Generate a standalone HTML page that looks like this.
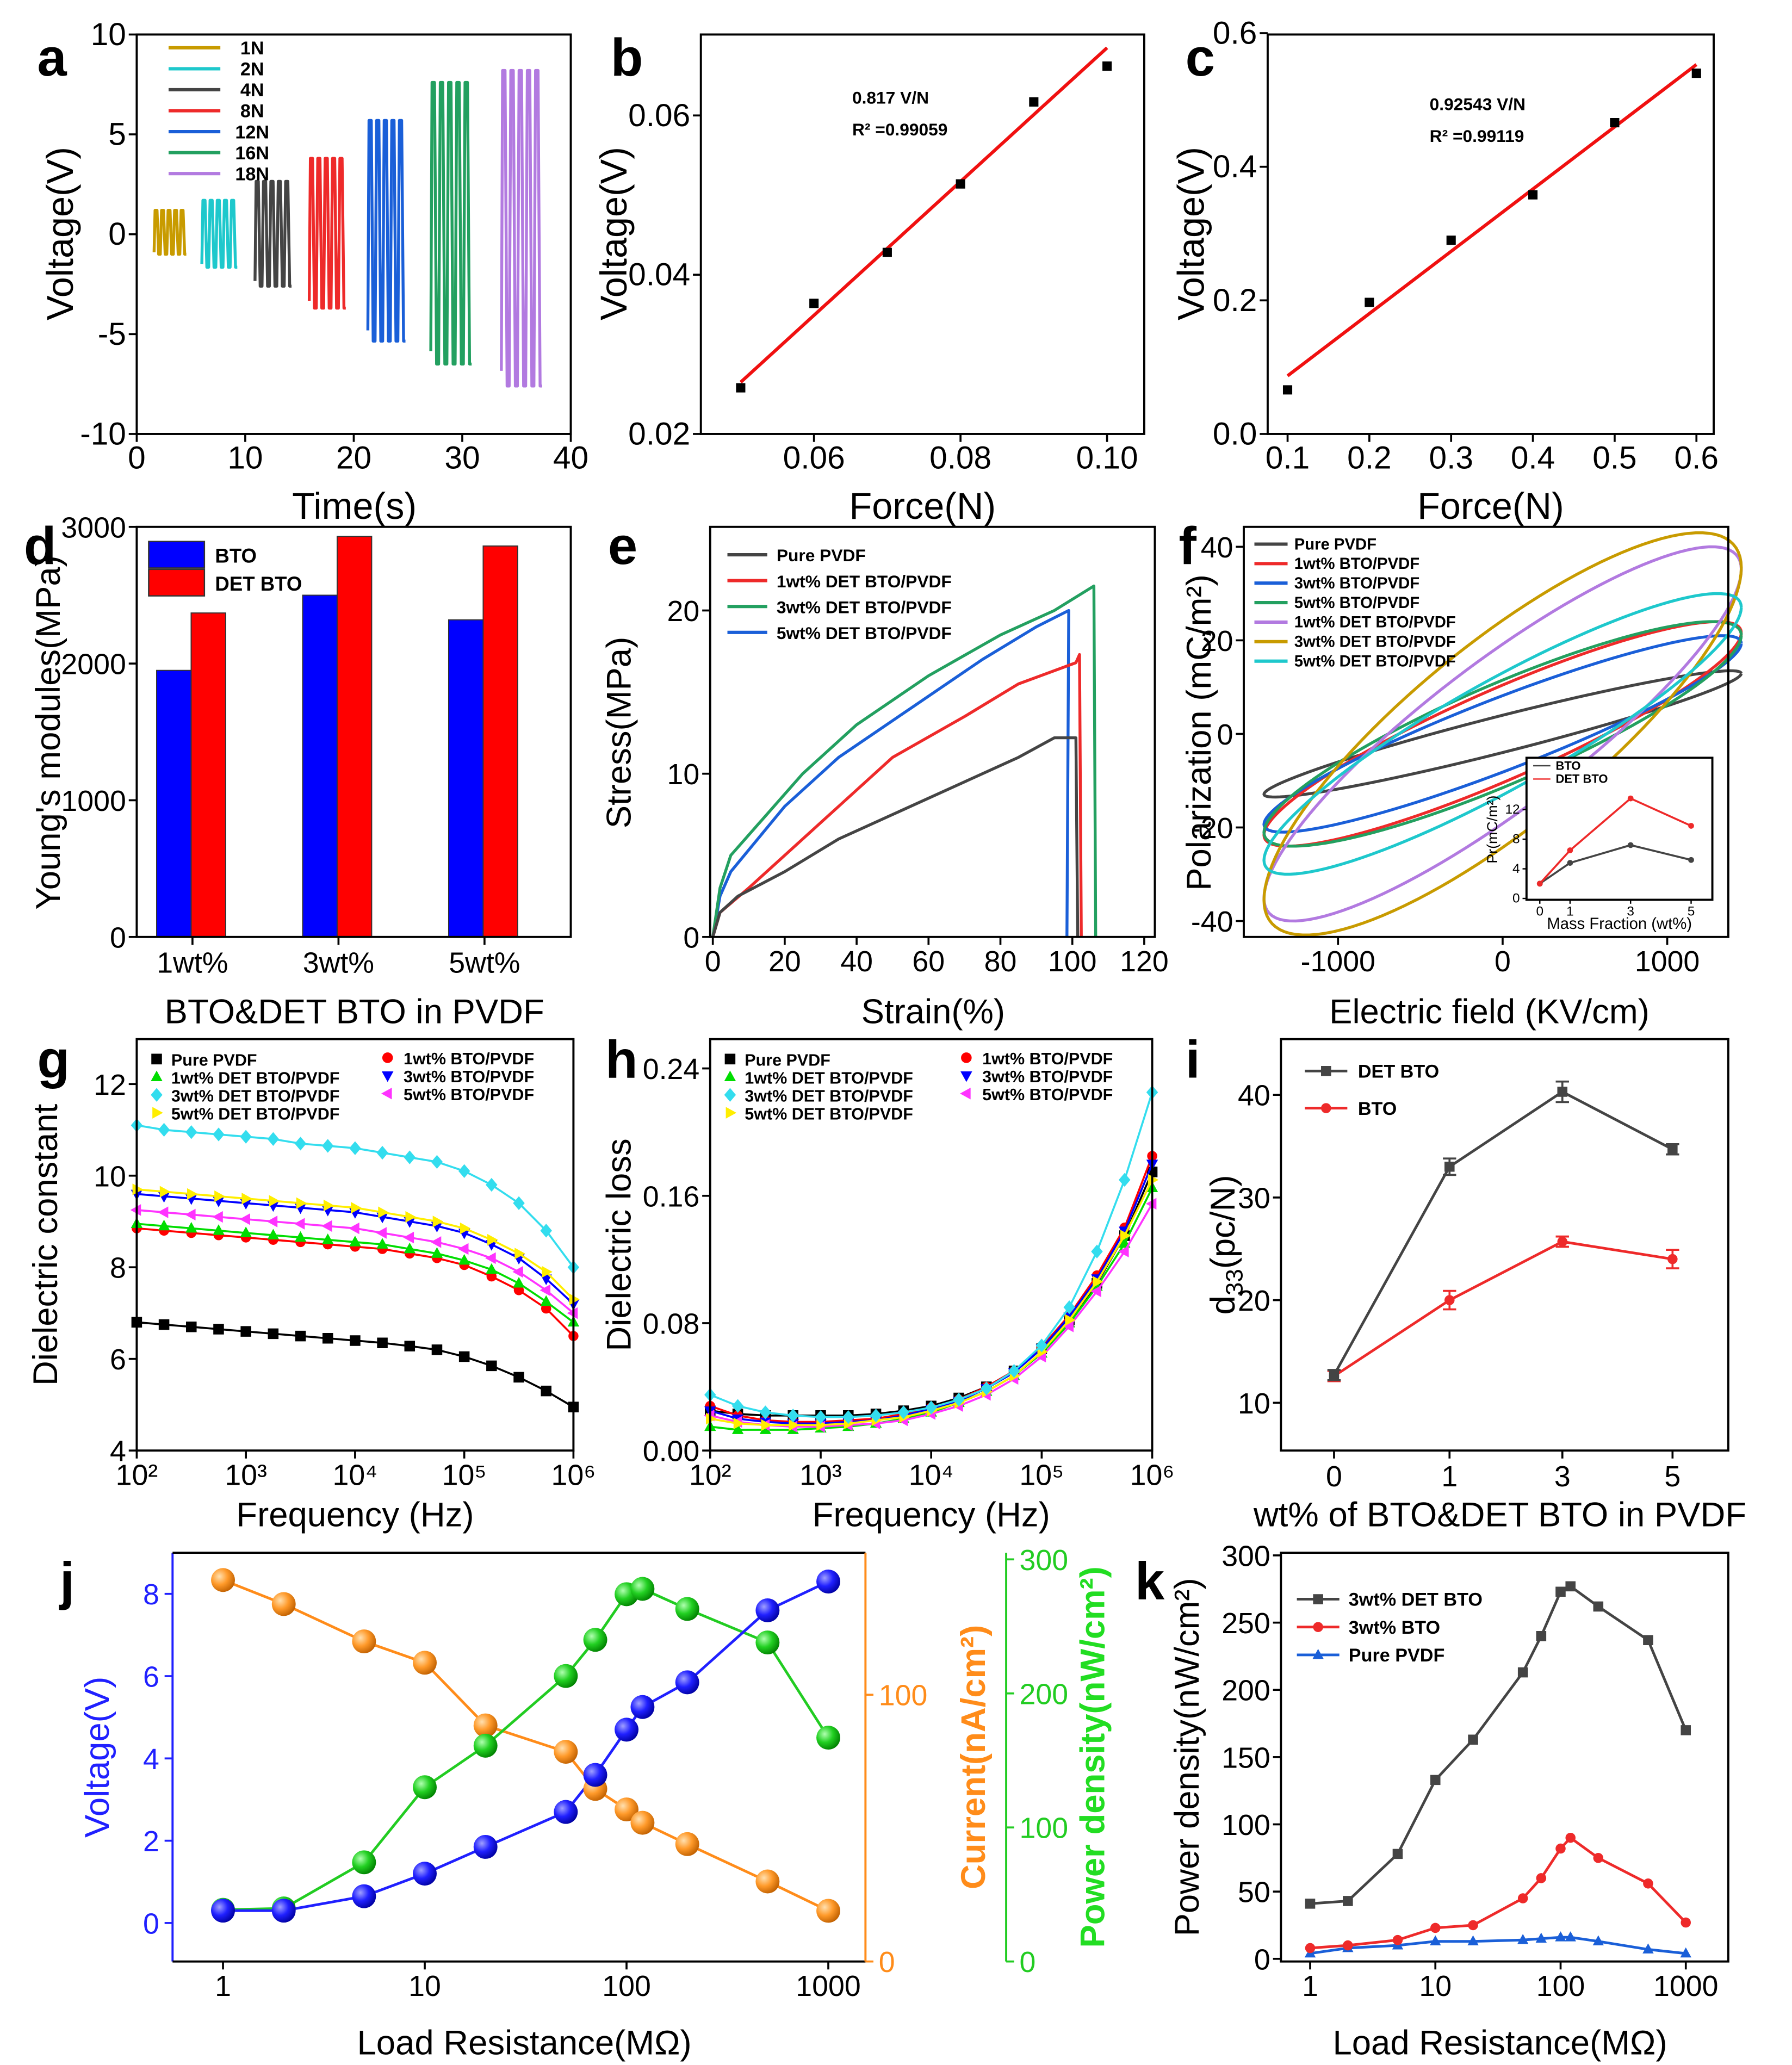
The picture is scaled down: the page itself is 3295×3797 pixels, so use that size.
<!DOCTYPE html>
<html><head><meta charset="utf-8"><title>Figure</title>
<style>
html,body{margin:0;padding:0;background:#fff;}
svg{display:block;font-family:"Liberation Sans",Arial,sans-serif;}
</style></head>
<body>
<svg id="chart" xmlns="http://www.w3.org/2000/svg" width="3295" height="3797" viewBox="0 0 1350 1556" preserveAspectRatio="none">
<defs>
<radialGradient id="gBlue" cx="0.35" cy="0.35" r="0.7"><stop offset="0" stop-color="#a0a0ff"/><stop offset="0.5" stop-color="#2020ff"/><stop offset="1" stop-color="#0000a0"/></radialGradient>
<radialGradient id="gOrange" cx="0.35" cy="0.35" r="0.7"><stop offset="0" stop-color="#ffe0b0"/><stop offset="0.5" stop-color="#ff9a2a"/><stop offset="1" stop-color="#c06000"/></radialGradient>
<radialGradient id="gGreen" cx="0.35" cy="0.35" r="0.7"><stop offset="0" stop-color="#b0ffb0"/><stop offset="0.5" stop-color="#22d022"/><stop offset="1" stop-color="#008000"/></radialGradient>
</defs>
</svg>
<script>
// ---------- DATA ----------
const aForces = ['1N','2N','4N','8N','12N','16N','18N'];
const aStart = [1.6, 6.0, 10.9, 15.9, 21.3, 27.1, 33.6];
const aEnd = [4.6, 9.3, 14.3, 19.3, 24.8, 30.9, 37.4];
const aMax = [1.2, 1.7, 2.65, 3.8, 5.7, 7.6, 8.2];
const aMin = [-1.0, -1.65, -2.6, -3.7, -5.35, -6.5, -7.6];
const bForce = [0.05, 0.06, 0.07, 0.08, 0.09, 0.10];
const bVolt = [0.0258, 0.0364, 0.0428, 0.0514, 0.0617, 0.0662];
const bFit = [0.0265, 0.0685];
const cForce = [0.1, 0.2, 0.3, 0.4, 0.5, 0.6];
const cVolt = [0.066, 0.197, 0.29, 0.358, 0.466, 0.54];
const cFit = [0.087, 0.553];
const dCats = ['1wt%','3wt%','5wt%'];
const dBTO = [1950, 2500, 2320];
const dDET = [2370, 2930, 2860];
const eNames = ['Pure PVDF','1wt% DET BTO/PVDF','3wt% DET BTO/PVDF','5wt% DET BTO/PVDF'];
const eGrayX = [0,2,7,20,35,50,70,85,95,101,101.5];
const eGrayY = [0,1.5,2.5,4,6,7.5,9.5,11,12.2,12.2,0];
const eRedX = [0,2,10,20,35,50,70,85,101,102,102.5];
const eRedY = [0,1.5,3,5,8,11,13.5,15.5,16.8,17.3,0];
const eGreenX = [0,2,5,25,40,60,80,95,106,106.5];
const eGreenY = [0,3,5,10,13,16,18.5,20,21.5,0];
const eBlueX = [0,2,5,20,35,55,75,90,99,98.5];
const eBlueY = [0,2.5,4,8,11,14,17,19,20,0];
const fNames = ['Pure PVDF','1wt% BTO/PVDF','3wt% BTO/PVDF','5wt% BTO/PVDF','1wt% DET BTO/PVDF','3wt% DET BTO/PVDF','5wt% DET BTO/PVDF'];
const fPmax = [13.5, 24, 21, 24, 40, 43, 30];
const fPhase = [0.3, 0.45, 0.4, 0.5, 0.5, 0.6, 0.45];
const insetX = [0, 1, 3, 5];
const insetBTO = [2, 4.8, 7.2, 5.2];
const insetDET = [2, 6.5, 13.5, 9.8];
const gNames = ['Pure PVDF','1wt% BTO/PVDF','1wt% DET BTO/PVDF','3wt% BTO/PVDF','3wt% DET BTO/PVDF','5wt% BTO/PVDF','5wt% DET BTO/PVDF'];
const gPure = [6.8,6.75,6.7,6.65,6.6,6.55,6.5,6.45,6.4,6.35,6.28,6.2,6.05,5.85,5.6,5.3,4.95];
const gB1 = [8.85,8.8,8.75,8.7,8.65,8.6,8.55,8.5,8.45,8.4,8.3,8.2,8.05,7.8,7.5,7.1,6.5];
const gD1 = [8.95,8.9,8.85,8.8,8.75,8.7,8.65,8.6,8.55,8.5,8.4,8.3,8.15,7.95,7.65,7.25,6.8];
const gB3 = [9.6,9.55,9.5,9.45,9.4,9.35,9.3,9.25,9.2,9.1,9.0,8.9,8.75,8.5,8.2,7.75,7.2];
const gD3 = [11.1,11.0,10.95,10.9,10.85,10.8,10.7,10.65,10.6,10.5,10.4,10.3,10.1,9.8,9.4,8.8,8.0];
const gB5 = [9.25,9.2,9.15,9.1,9.05,9.0,8.95,8.9,8.85,8.75,8.65,8.55,8.4,8.2,7.9,7.5,7.0];
const gD5 = [9.7,9.65,9.6,9.55,9.5,9.45,9.4,9.35,9.3,9.2,9.1,9.0,8.85,8.6,8.3,7.9,7.3];
const hPure = [0.025,0.023,0.022,0.022,0.022,0.022,0.023,0.025,0.028,0.033,0.040,0.050,0.064,0.082,0.105,0.135,0.175];
const hB1 = [0.028,0.022,0.019,0.018,0.018,0.019,0.020,0.023,0.027,0.032,0.040,0.050,0.065,0.085,0.11,0.14,0.185];
const hD1 = [0.015,0.013,0.013,0.013,0.014,0.015,0.017,0.020,0.024,0.030,0.037,0.047,0.061,0.080,0.103,0.130,0.165];
const hB3 = [0.025,0.020,0.018,0.017,0.017,0.018,0.019,0.022,0.026,0.031,0.039,0.049,0.064,0.084,0.108,0.138,0.180];
const hD3 = [0.035,0.028,0.024,0.022,0.021,0.021,0.022,0.024,0.027,0.032,0.039,0.050,0.066,0.090,0.125,0.170,0.225];
const hB5 = [0.022,0.018,0.016,0.015,0.015,0.016,0.017,0.019,0.023,0.028,0.035,0.045,0.059,0.078,0.100,0.125,0.155];
const hD5 = [0.020,0.017,0.016,0.016,0.016,0.017,0.019,0.021,0.025,0.030,0.037,0.047,0.062,0.082,0.106,0.135,0.170];
const iCats = ['0','1','3','5'];
const iDET = [12.7, 33, 40.3, 34.7];
const iDETerr = [0.5, 0.8, 1.0, 0.5];
const iBTO = [12.6, 20, 25.7, 24];
const iBTOerr = [0.5, 0.9, 0.5, 0.9];
const jR = [1,2,5,10,20,50,70,100,120,200,500,1000];
const jVolt = [0.3,0.3,0.65,1.2,1.85,2.7,3.6,4.7,5.25,5.85,7.6,8.3];
const jCurr = [143,134,120,112,88.5,78.6,64.7,57,52,44,30,19];
const jPow = [38.6,39.6,74,130,161,213,240,274,278,263,238,167];
const kR = [1,2,5,10,20,50,70,100,120,200,500,1000];
const kDET = [41,43,78,133,163,213,240,273,277,262,237,170];
const kBTO = [8,10,14,23,25,45,60,82,90,75,56,27];
const kPure = [4,8,10,13,13,14,15,16,16,13,7,4];

// ---------- HELPERS ----------
const NS = 'http://www.w3.org/2000/svg';
const S = document.getElementById('chart');
function mk(tag, name, attrs, parent){
  const el = document.createElementNS(NS, tag);
  
  
  for (const k in attrs) el.setAttribute(k, attrs[k]);
  (parent || S).appendChild(el);
  return el;
}
function txt(name, x, y, s, str, extra, parent){
  const a = Object.assign({x:x, y:y, 'font-size':s, fill:'#000'}, extra || {});
  const el = mk('text', name, a, parent);
  el.textContent = str;
  return el;
}
function lin(d0,d1,p0,p1){ return v => p0 + (v-d0)/(d1-d0)*(p1-p0); }
function lg(d0,d1,p0,p1){ return v => p0 + (Math.log10(v)-Math.log10(d0))/(Math.log10(d1)-Math.log10(d0))*(p1-p0); }
function frame(name, x0,y0,x1,y1, g){
  mk('rect', name, {x:x0,y:y0,width:x1-x0,height:y1-y0,fill:'none',stroke:'#000','stroke-width':1.6}, g);
}
function xTicks(pname, vals, labels, sx, y, g, fs){
  vals.forEach((v,i)=>{
    const x = sx(v);
    mk('line', pname+'-x-tick', {x1:x,y1:y,x2:x,y2:y+6,stroke:'#000','stroke-width':1.5}, g);
    txt(pname+'-x-tick-label', x, y+26, fs||22, labels[i], {'text-anchor':'middle'}, g);
  });
}
function yTicks(pname, vals, labels, sy, x, g, fs){
  vals.forEach((v,i)=>{
    const y = sy(v);
    mk('line', pname+'-y-tick', {x1:x-6,y1:y,x2:x,y2:y,stroke:'#000','stroke-width':1.5}, g);
    txt(pname+'-y-tick-label', x-8, y+8, fs||22, labels[i], {'text-anchor':'end'}, g);
  });
}
function yTitle(name, x, y, s, str, g, color){
  return txt(name, x, y, s, str, {'text-anchor':'middle', transform:'rotate(-90 '+x+' '+y+')', fill:color||'#000'}, g);
}
function letter(name, x, y, str){ txt(name, x, y, 40, str, {'font-weight':'bold'}); }
function poly(name, pts, color, w, g){
  return mk('polyline', name, {points:pts.map(p=>p[0].toFixed(2)+','+p[1].toFixed(2)).join(' '), fill:'none', stroke:color, 'stroke-width':w||2, 'stroke-linejoin':'round'}, g);
}
function marker(name, type, x, y, s, color, g){
  let d;
  if (type==='sq') d = `M${x-s},${y-s}h${2*s}v${2*s}h${-2*s}z`;
  else if (type==='up') d = `M${x},${y-s*1.2}L${x+s*1.1},${y+s*0.8}L${x-s*1.1},${y+s*0.8}z`;
  else if (type==='down') d = `M${x},${y+s*1.2}L${x+s*1.1},${y-s*0.8}L${x-s*1.1},${y-s*0.8}z`;
  else if (type==='left') d = `M${x-s*1.2},${y}L${x+s*0.8},${y-s*1.1}L${x+s*0.8},${y+s*1.1}z`;
  else if (type==='right') d = `M${x+s*1.2},${y}L${x-s*0.8},${y-s*1.1}L${x-s*0.8},${y+s*1.1}z`;
  else if (type==='dia') d = `M${x},${y-s*1.3}L${x+s*1.1},${y}L${x},${y+s*1.3}L${x-s*1.1},${y}z`;
  if (type==='circ') return mk('circle', name, {cx:x,cy:y,r:s,fill:color}, g);
  return mk('path', name, {d:d, fill:color}, g);
}

// ---------- PANEL A ----------
(function(){
  const g = mk('g','panel-a',{});
  const sx = lin(0,40,103,430), sy = lin(-10,10,327,26);
  const cols = ['#c89b00','#1ec8cc','#444444','#ee2a2a','#1a5fd8','#23a060','#b27ae0'];
  aForces.forEach((f,i)=>{
    const pts = []; const n = 5; const dt = (aEnd[i]-aStart[i])/n;
    pts.push([sx(aStart[i]), sy(aMin[i]*0.9)]);
    for (let k=0;k<n;k++){
      const t = aStart[i]+k*dt;
      pts.push([sx(t+dt*0.15), sy(aMax[i])]);
      pts.push([sx(t+dt*0.45), sy(aMax[i])]);
      pts.push([sx(t+dt*0.7), sy(aMin[i])]);
      pts.push([sx(t+dt*0.95), sy(aMin[i])]);
    }
    poly('signal-'+f, pts, cols[i], 2.2, g);
    const ly = 40 + i*15.8;
    mk('line','legend-line-'+f,{x1:127,y1:ly-4,x2:166,y2:ly-4,stroke:cols[i],'stroke-width':2.5},g);
    txt('legend-label-'+f, 190, ly+1, 14, f, {'font-weight':'bold','text-anchor':'middle'}, g);
  });
  frame('plot-frame-a',103,26,430,327,g);
  xTicks('a',[0,10,20,30,40],['0','10','20','30','40'],sx,327,g,24);
  yTicks('a',[-10,-5,0,5,10],['-10','-5','0','5','10'],sy,103,g,24);
  txt('x-axis-title-a',267,391,28,'Time(s)',{'text-anchor':'middle'},g);
  yTitle('y-axis-title-a',55,176,28,'Voltage(V)',g);
  letter('label-a',28,57,'a');
})();

// ---------- PANEL B ----------
(function(){
  const g = mk('g','panel-b',{});
  const sx = lin(0.05,0.10,558,834), sy = lin(0.02,0.06,327,87);
  mk('line','fit-line-b',{x1:sx(0.05),y1:sy(bFit[0]),x2:sx(0.10),y2:sy(bFit[1]),stroke:'#f01010','stroke-width':2.5},g);
  bForce.forEach((f,i)=>marker('point-b','sq',sx(f),sy(bVolt[i]),3.5,'#000',g));
  frame('plot-frame-b',528,26,862,327,g);
  xTicks('b',[0.06,0.08,0.10],['0.06','0.08','0.10'],sx,327,g,24);
  yTicks('b',[0.02,0.04,0.06],['0.02','0.04','0.06'],sy,528,g,24);
  txt('slope-text-b',642,78,13,'0.817 V/N',{'font-weight':'bold'},g);
  txt('r2-text-b',642,102,13,'R² =0.99059',{'font-weight':'bold'},g);
  txt('x-axis-title-b',695,391,28,'Force(N)',{'text-anchor':'middle'},g);
  yTitle('y-axis-title-b',472,176,28,'Voltage(V)',g);
  letter('label-b',460,57,'b');
})();

// ---------- PANEL C ----------
(function(){
  const g = mk('g','panel-c',{});
  const sx = lin(0.1,0.6,970,1278), sy = lin(0,0.6,327,25);
  mk('line','fit-line-c',{x1:sx(0.1),y1:sy(cFit[0]),x2:sx(0.6),y2:sy(cFit[1]),stroke:'#f01010','stroke-width':2.5},g);
  cForce.forEach((f,i)=>marker('point-c','sq',sx(f),sy(cVolt[i]),3.5,'#000',g));
  frame('plot-frame-c',955,26,1291,327,g);
  xTicks('c',[0.1,0.2,0.3,0.4,0.5,0.6],['0.1','0.2','0.3','0.4','0.5','0.6'],sx,327,g,24);
  yTicks('c',[0,0.2,0.4,0.6],['0.0','0.2','0.4','0.6'],sy,955,g,24);
  txt('slope-text-c',1077,83,13,'0.92543 V/N',{'font-weight':'bold'},g);
  txt('r2-text-c',1077,107,13,'R² =0.99119',{'font-weight':'bold'},g);
  txt('x-axis-title-c',1123,391,28,'Force(N)',{'text-anchor':'middle'},g);
  yTitle('y-axis-title-c',907,176,28,'Voltage(V)',g);
  letter('label-c',893,57,'c');
})();

// ---------- PANEL D ----------
(function(){
  const g = mk('g','panel-d',{});
  const sy = lin(0,3000,706,397); const cx = [145,255,365];
  dCats.forEach((c,i)=>{
    mk('rect','bar-bto-'+c,{x:cx[i]-27,y:sy(dBTO[i]),width:26,height:706-sy(dBTO[i]),fill:'#0000ff',stroke:'#333','stroke-width':0.8},g);
    mk('rect','bar-det-'+c,{x:cx[i]-1,y:sy(dDET[i]),width:26,height:706-sy(dDET[i]),fill:'#ff0000',stroke:'#333','stroke-width':0.8},g);
    mk('line','d-x-tick',{x1:cx[i],y1:706,x2:cx[i],y2:712,stroke:'#000','stroke-width':1.5},g);
    txt('d-x-tick-label',cx[i],733,22,c,{'text-anchor':'middle'},g);
  });
  frame('plot-frame-d',103,397,430,706,g);
  yTicks('d',[0,1000,2000,3000],['0','1000','2000','3000'],sy,103,g,22);
  mk('rect','legend-swatch-bto',{x:112,y:408,width:42,height:20,fill:'#0000ff',stroke:'#333'},g);
  txt('legend-label-bto',162,424,15,'BTO',{'font-weight':'bold'},g);
  mk('rect','legend-swatch-det',{x:112,y:429,width:42,height:20,fill:'#ff0000',stroke:'#333'},g);
  txt('legend-label-det',162,445,15,'DET BTO',{'font-weight':'bold'},g);
  txt('x-axis-title-d',267,771,26,'BTO&DET BTO in PVDF',{'text-anchor':'middle'},g);
  yTitle('y-axis-title-d',45,552,26,"Young's modules(MPa)",g);
  letter('label-d',18,425,'d');
})();

// ---------- PANEL E ----------
(function(){
  const g = mk('g','panel-e',{});
  const sx = lin(0,120,537,862), sy = lin(0,20,706,460);
  const cols = ['#444444','#ee2a2a','#23a060','#1a5fd8'];
  const xs = [eGrayX,eRedX,eGreenX,eBlueX], ys = [eGrayY,eRedY,eGreenY,eBlueY];
  [3,2,1,0].forEach(i=>poly('curve-'+eNames[i],xs[i].map((x,k)=>[sx(x),sy(ys[i][k])]),cols[i],2.2,g));
  frame('plot-frame-e',535,397,870,706,g);
  xTicks('e',[0,20,40,60,80,100,120],['0','20','40','60','80','100','120'],sx,706,g,22);
  yTicks('e',[0,10,20],['0','10','20'],sy,535,g,22);
  eNames.forEach((n,i)=>{
    const y = 418+i*19.5;
    mk('line','legend-line-e',{x1:548,y1:y,x2:578,y2:y,stroke:cols[i],'stroke-width':2.5},g);
    txt('legend-label-e',585,y+5,13,n,{'font-weight':'bold'},g);
  });
  txt('x-axis-title-e',703,771,26,'Strain(%)',{'text-anchor':'middle'},g);
  yTitle('y-axis-title-e',475,552,26,'Stress(MPa)',g);
  letter('label-e',458,425,'e');
})();

// ---------- PANEL F ----------
(function(){
  const g = mk('g','panel-f',{});
  const sx = lin(0,1000,1132,1256), sy = lin(0,40,553,412);
  const cols = ['#444444','#ee2a2a','#1a5fd8','#23a060','#b27ae0','#c89b00','#1ec8cc'];
  fNames.forEach((n,i)=>{
    const pts=[];
    for(let k=0;k<=120;k++){const t=k/120*2*Math.PI; pts.push([sx(1450*Math.cos(t)), sy(fPmax[i]*Math.cos(t-fPhase[i]))]);}
    poly('loop-'+n,pts,cols[i],2.2,g);
    const y=410+i*14.7;
    mk('line','legend-line-f',{x1:945,y1:y,x2:970,y2:y,stroke:cols[i],'stroke-width':2.5},g);
    txt('legend-label-f',975,y+4,12,n,{'font-weight':'bold'},g);
  });
  frame('plot-frame-f',937,397,1302,706,g);
  xTicks('f',[-1000,0,1000],['-1000','0','1000'],sx,706,g,22);
  yTicks('f',[-40,-20,0,20,40],['-40','-20','0','20','40'],sy,937,g,22);
  mk('rect','inset-bg',{x:1150,y:571,width:140,height:107,fill:'#fff'},g);
  const ix = lin(0,5,1160,1274), iy = lin(0,12,677,610);
  poly('inset-line-bto',insetX.map((x,k)=>[ix(x),iy(insetBTO[k])]),'#444',1.5,g);
  poly('inset-line-det',insetX.map((x,k)=>[ix(x),iy(insetDET[k])]),'#ee2a2a',1.5,g);
  insetX.forEach((x,k)=>{marker('inset-point-bto','circ',ix(x),iy(insetBTO[k]),2.2,'#444',g);marker('inset-point-det','circ',ix(x),iy(insetDET[k]),2.2,'#ee2a2a',g);});
  frame('inset-frame',1150,571,1290,678,g);
  [0,1,3,5].forEach(v=>{mk('line','inset-x-tick',{x1:ix(v),y1:678,x2:ix(v),y2:681,stroke:'#000'},g);txt('inset-x-tick-label',ix(v),690,10,String(v),{'text-anchor':'middle'},g);});
  [0,4,8,12].forEach(v=>{mk('line','inset-y-tick',{x1:1147,y1:iy(v),x2:1150,y2:iy(v),stroke:'#000'},g);txt('inset-y-tick-label',1145,iy(v)+3,10,String(v),{'text-anchor':'end'},g);});
  txt('inset-x-title',1220,700,12,'Mass Fraction (wt%)',{'text-anchor':'middle'},g);
  yTitle('inset-y-title',1128,625,11,'Pr(mC/m²)',g);
  mk('line','inset-legend-line-bto',{x1:1155,y1:577,x2:1168,y2:577,stroke:'#444'},g);
  txt('inset-legend-bto',1172,580,9,'BTO',{'font-weight':'bold'},g);
  mk('line','inset-legend-line-det',{x1:1155,y1:587,x2:1168,y2:587,stroke:'#ee2a2a'},g);
  txt('inset-legend-det',1172,590,9,'DET BTO',{'font-weight':'bold'},g);
  txt('x-axis-title-f',1122,771,26,'Electric field (KV/cm)',{'text-anchor':'middle'},g);
  yTitle('y-axis-title-f',912,552,26,'Polarization (mC/m²)',g);
  letter('label-f',888,425,'f');
})();

// ---------- PANELS G & H ----------
const ghCols = ['#000000','#ff0000','#00dd00','#0000ff','#33ddee','#ff33ff','#ffee00'];
const ghMarks = ['sq','circ','up','down','dia','left','right'];
function ghPanel(id, x0, x1, ymin, ymax, ytv, ytl, series, ltitle, ltx){
  const g = mk('g','panel-'+id,{});
  const sx = lg(100,1e6,x0,x1), sy = lin(ymin,ymax,1093,783);
  const order = [0,1,2,3,5,6,4];
  order.forEach(i=>{
    const arr = series[i];
    const pts = arr.map((v,k)=>[sx(Math.pow(10,2+k*0.25)),sy(v)]);
    poly('series-'+gNames[i],pts,ghCols[i],1.5,g);
    pts.forEach(p=>marker('marker-'+gNames[i],ghMarks[i],p[0],p[1],i===1?3.8:4,ghCols[i],g));
  });
  frame('plot-frame-'+id,x0,783,x1,1093,g);
  xTicks(id,[100,1e3,1e4,1e5,1e6],['10²','10³','10⁴','10⁵','10⁶'],sx,1093,g,22);
  yTicks(id,ytv,ytl,sy,x0,g,22);
  const left=[0,2,4,6], right=[1,3,5];
  left.forEach((i,k)=>{const y=798+k*13.5;marker('legend-marker-'+id,ghMarks[i],x0+15,y,4,ghCols[i],g);txt('legend-label-'+id,x0+26,y+5,12.5,gNames[i],{'font-weight':'bold'},g);});
  right.forEach((i,k)=>{const y=797+k*13.5;marker('legend-marker-'+id,ghMarks[i],ltx,y,4,ghCols[i],g);txt('legend-label-'+id,ltx+12,y+5,12.5,gNames[i],{'font-weight':'bold'},g);});
  txt('x-axis-title-'+id,(x0+x1)/2,1150,26,'Frequency (Hz)',{'text-anchor':'middle'},g);
  yTitle('y-axis-title-'+id,x0-60,938,26,ltitle,g);
  return g;
}
ghPanel('g',103,432,4,12.98,[4,6,8,10,12],['4','6','8','10','12'],[gPure,gB1,gD1,gB3,gD3,gB5,gD5],'Dielectric constant',292);
letter('label-g',28,812,'g');
ghPanel('h',535,868,0,0.2584,[0,0.08,0.16,0.24],['0.00','0.08','0.16','0.24'],[hPure,hB1,hD1,hB3,hD3,hB5,hD5],'Dielectric loss',728);
letter('label-h',456,812,'h');

// ---------- PANEL I ----------
(function(){
  const g = mk('g','panel-i',{});
  const cx=[1005,1092,1177,1260], sy=lin(10,40,1057,825);
  const draw=(arr,err,col,nm,mt)=>{
    poly('line-'+nm,arr.map((v,k)=>[cx[k],sy(v)]),col,2,g);
    arr.forEach((v,k)=>{
      mk('line','error-bar-'+nm,{x1:cx[k],y1:sy(v+err[k]),x2:cx[k],y2:sy(v-err[k]),stroke:col,'stroke-width':1.5},g);
      mk('line','error-cap-'+nm,{x1:cx[k]-5,y1:sy(v+err[k]),x2:cx[k]+5,y2:sy(v+err[k]),stroke:col,'stroke-width':1.5},g);
      mk('line','error-cap-'+nm,{x1:cx[k]-5,y1:sy(v-err[k]),x2:cx[k]+5,y2:sy(v-err[k]),stroke:col,'stroke-width':1.5},g);
      marker('point-'+nm,mt,cx[k],sy(v),3.8,col,g);
    });
  };
  draw(iBTO,iBTOerr,'#ee2a2a','bto','circ');
  draw(iDET,iDETerr,'#444444','det-bto','sq');
  frame('plot-frame-i',965,783,1302,1093,g);
  iCats.forEach((c,k)=>{mk('line','i-x-tick',{x1:cx[k],y1:1093,x2:cx[k],y2:1099,stroke:'#000','stroke-width':1.5},g);txt('i-x-tick-label',cx[k],1120,22,c,{'text-anchor':'middle'},g);});
  yTicks('i',[10,20,30,40],['10','20','30','40'],sy,965,g,22);
  mk('line','legend-line-i-det',{x1:983,y1:807,x2:1015,y2:807,stroke:'#444','stroke-width':2},g);
  marker('legend-marker-i-det','sq',999,807,3.8,'#444',g);
  txt('legend-label-i-det',1023,812,14,'DET BTO',{'font-weight':'bold'},g);
  mk('line','legend-line-i-bto',{x1:983,y1:835,x2:1015,y2:835,stroke:'#ee2a2a','stroke-width':2},g);
  marker('legend-marker-i-bto','circ',999,835,3.8,'#ee2a2a',g);
  txt('legend-label-i-bto',1023,840,14,'BTO',{'font-weight':'bold'},g);
  txt('x-axis-title-i',1130,1150,26,'wt% of BTO&DET BTO in PVDF',{'text-anchor':'middle'},g);
  const t = yTitle('y-axis-title-i',930,938,26,'d',g);
  const sub=document.createElementNS(NS,'tspan');
  
  
  sub.setAttribute('font-size','18'); sub.setAttribute('dy','6'); sub.textContent='33'; t.appendChild(sub);
  const rest=document.createElementNS(NS,'tspan');
  
  
  rest.setAttribute('dy','-6'); rest.textContent='(pc/N)'; t.appendChild(rest);
  letter('label-i',893,812,'i');
})();

// ---------- PANEL J ----------
(function(){
  const g = mk('g','panel-j',{});
  const sx = lg(1,1000,168,624), sv = lin(0,8,1449,1201), sc = lin(0,100,1478,1277), sp = lin(0,300,1478,1175);
  poly('line-current',jR.map((r,k)=>[sx(r),sc(jCurr[k])]),'#ff8c1a',2,g);
  poly('line-power',jR.map((r,k)=>[sx(r),sp(jPow[k])]),'#22cc22',2,g);
  poly('line-voltage',jR.map((r,k)=>[sx(r),sv(jVolt[k])]),'#2020ff',2,g);
  jR.forEach((r,k)=>{
    mk('circle','point-current',{cx:sx(r),cy:sc(jCurr[k]),r:9,fill:'url(#gOrange)'},g);
    mk('circle','point-power',{cx:sx(r),cy:sp(jPow[k]),r:9,fill:'url(#gGreen)'},g);
    mk('circle','point-voltage',{cx:sx(r),cy:sv(jVolt[k]),r:9,fill:'url(#gBlue)'},g);
  });
  mk('line','axis-left-j',{x1:130,y1:1170,x2:130,y2:1478,stroke:'#2020ff','stroke-width':1.6},g);
  mk('line','axis-bottom-j',{x1:130,y1:1478,x2:652,y2:1478,stroke:'#000','stroke-width':1.6},g);
  mk('line','axis-top-j',{x1:130,y1:1170,x2:652,y2:1170,stroke:'#000','stroke-width':1.6},g);
  mk('line','axis-right-j',{x1:652,y1:1170,x2:652,y2:1478,stroke:'#ff8c1a','stroke-width':1.6},g);
  mk('line','axis-power-j',{x1:758,y1:1170,x2:758,y2:1478,stroke:'#22cc22','stroke-width':1.6},g);
  xTicks('j',[1,10,100,1000],['1','10','100','1000'],sx,1478,g,22);
  [0,2,4,6,8].forEach(v=>{mk('line','j-y-tick',{x1:124,y1:sv(v),x2:130,y2:sv(v),stroke:'#2020ff','stroke-width':1.5},g);txt('j-y-tick-label',120,sv(v)+8,22,String(v),{'text-anchor':'end',fill:'#2020ff'},g);});
  [0,100].forEach(v=>{mk('line','j-current-tick',{x1:652,y1:sc(v),x2:658,y2:sc(v),stroke:'#ff8c1a','stroke-width':1.5},g);txt('j-current-tick-label',662,sc(v)+8,22,String(v),{fill:'#ff8c1a'},g);});
  [0,100,200,300].forEach(v=>{mk('line','j-power-tick',{x1:758,y1:sp(v),x2:764,y2:sp(v),stroke:'#22cc22','stroke-width':1.5},g);txt('j-power-tick-label',768,sp(v)+8,22,String(v),{fill:'#22cc22'},g);});
  txt('x-axis-title-j',395,1548,26,'Load Resistance(MΩ)',{'text-anchor':'middle'},g);
  yTitle('y-axis-title-voltage',82,1324,26,'Voltage(V)',g,'#2020ff');
  const c=yTitle('y-axis-title-current',742,1324,26,'Current(nA/cm²)',g,'#ff8c1a'); c.setAttribute('font-weight','bold');
  const p=yTitle('y-axis-title-power',832,1324,26,'Power density(nW/cm²)',g,'#22dd22'); p.setAttribute('font-weight','bold');
  letter('label-j',45,1205,'j');
})();

// ---------- PANEL K ----------
(function(){
  const g = mk('g','panel-k',{});
  const sx = lg(1,1000,987,1270), sy = lin(0,300,1476,1172);
  const ser=[[kPure,'#1a5fd8','up','pure-pvdf'],[kBTO,'#ee2a2a','circ','3wt-bto'],[kDET,'#444444','sq','3wt-det-bto']];
  ser.forEach(s=>{
    poly('line-'+s[3],kR.map((r,k)=>[sx(r),sy(s[0][k])]),s[1],2,g);
    kR.forEach((r,k)=>marker('point-'+s[3],s[2],sx(r),sy(s[0][k]),3.8,s[1],g));
  });
  frame('plot-frame-k',965,1170,1302,1478,g);
  xTicks('k',[1,10,100,1000],['1','10','100','1000'],sx,1478,g,22);
  yTicks('k',[0,50,100,150,200,250,300],['0','50','100','150','200','250','300'],sy,965,g,22);
  const leg=[['3wt% DET BTO','#444444','sq'],['3wt% BTO','#ee2a2a','circ'],['Pure PVDF','#1a5fd8','up']];
  leg.forEach((l,i)=>{const y=1205+i*21;mk('line','legend-line-k',{x1:977,y1:y,x2:1009,y2:y,stroke:l[1],'stroke-width':2},g);marker('legend-marker-k',l[2],993,y,3.8,l[1],g);txt('legend-label-k',1016,y+5,14,l[0],{'font-weight':'bold'},g);});
  txt('x-axis-title-k',1130,1548,26,'Load Resistance(MΩ)',{'text-anchor':'middle'},g);
  yTitle('y-axis-title-k',903,1324,26,'Power density(nW/cm²)',g);
  letter('label-k',855,1205,'k');
})();
</script>
</body></html>
